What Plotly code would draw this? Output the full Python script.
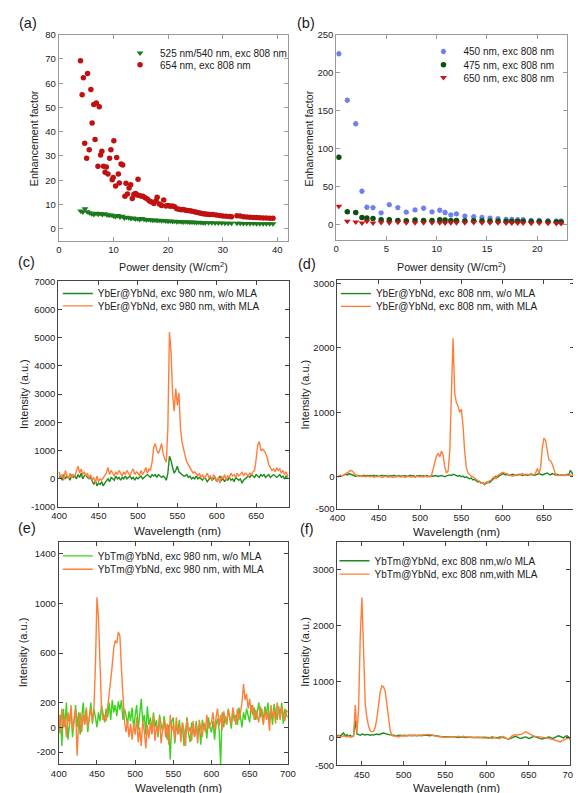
import numpy as np
import plotly.graph_objects as go

W, H = 581, 793
FONT = "Liberation Sans, Arial, sans-serif"

# ---------------- Panel (a) data ----------------
a_red_x = [3.97, 4.27, 4.5, 4.74, 5.1, 5.27, 5.57, 5.87, 6.1, 6.4, 6.64, 6.87, 7.17, 7.4, 7.64, 7.88,
           8.18, 8.47, 8.7, 9.0, 9.3, 9.54, 9.78, 9.96, 10.07, 10.4, 10.6, 10.9, 11.08, 11.4, 11.7,
           12.1, 12.3, 12.56, 12.86, 13.16, 13.45, 13.75, 14.04, 14.5,
           14.2, 14.6, 15.0, 15.4, 15.8, 16.2, 16.6, 17.0, 17.4, 17.8, 18.0, 18.4, 18.8, 19.2, 19.6,
           20.0, 20.4, 20.8, 21.2, 21.6, 22.0, 22.4, 22.8, 23.2, 23.6, 24.0, 24.4, 24.8, 25.2, 25.6,
           26.0, 26.4, 26.8, 27.2, 27.6, 28.2, 28.8, 29.4, 30.0, 30.6, 31.2, 31.6,
           32.6, 33.2, 33.8, 34.4, 35.0, 35.6, 36.2, 36.8, 37.4, 38.0, 38.6, 39.2]
a_red_y = [69.3, 55.2, 62.2, 35.2, 29.0, 64.0, 32.6, 57.4, 43.6, 51.2, 36.8, 51.8, 25.7, 50.3, 30.4, 31.9,
           25.8, 23.3, 25.4, 22.6, 29.1, 32.6, 20.2, 21.1, 36.3, 17.6, 29.4, 22.6, 18.8, 26.7, 26.3,
           13.4, 18.7, 14.3, 16.8, 18.1, 12.4, 14.2, 14.5, 20.4,
           14.0, 13.8, 13.5, 13.4, 12.8, 12.2, 11.4, 11.0, 10.4, 11.5, 13.0, 10.2, 9.6, 11.8, 9.4,
           9.6, 9.3, 9.4, 9.0, 8.2, 8.0, 7.8, 7.9, 7.6, 7.5, 7.4, 7.2, 7.0, 6.8, 6.6,
           6.4, 6.2, 6.1, 6.0, 5.9, 5.8, 5.6, 5.4, 5.2, 5.1, 5.0, 4.9,
           5.3, 5.2, 4.9, 4.8, 4.7, 4.6, 4.6, 4.5, 4.4, 4.4, 4.3, 4.3]
a_green_x = [4.0, 4.4, 4.8, 5.2, 5.6, 6.0, 6.4, 6.8, 7.2, 7.6, 8.0, 8.4, 8.8, 9.2, 9.6, 10.0, 10.4,
             10.8, 11.2, 11.6, 12.0, 12.4, 12.8, 13.2, 13.6, 14.0, 14.4, 14.8, 15.2, 15.6, 16.0,
             16.4, 16.8, 17.2, 17.6, 18.0, 18.4, 18.8, 19.2, 19.6, 20.0, 20.4, 20.8, 21.2, 21.6,
             22.0, 22.4, 22.8, 23.2, 23.6, 24.0, 24.4, 24.8, 25.2, 25.6, 26.0, 26.4, 26.8,
             27.4, 28.0, 28.6, 29.2, 29.8, 30.4, 31.0, 31.6,
             32.6, 33.2, 33.8, 34.4, 35.0, 35.6, 36.2, 36.8, 37.4, 38.0, 38.6, 39.2]
a_green_y = [7.3, 6.9, 8.2, 7.0, 6.6, 6.2, 5.8, 6.4, 6.0, 6.3, 5.9, 6.2, 5.7, 5.5, 5.6, 5.2, 5.0,
             5.4, 4.8, 5.1, 4.4, 4.7, 4.5, 4.2, 4.4, 4.0, 4.1, 3.8, 4.2, 3.9, 3.7,
             3.8, 3.6, 3.5, 3.6, 3.4, 3.5, 3.3, 3.4, 3.2, 3.1, 3.2, 3.0, 3.1, 2.9,
             3.0, 2.9, 2.8, 2.9, 2.8, 2.7, 2.8, 2.7, 2.6, 2.7, 2.6, 2.5, 2.5,
             2.4, 2.4, 2.3, 2.3, 2.3, 2.2, 2.2, 2.2,
             2.2, 2.2, 2.1, 2.1, 2.1, 2.1, 2.0, 2.0, 2.0, 2.0, 2.0, 2.0]

# ---------------- Panel (b) data ----------------
b_x = [0.26, 1.1, 1.94, 2.56, 3.05, 3.66, 4.47, 5.28, 6.13, 6.97, 7.84, 8.69, 9.53, 10.3, 10.83,
       11.4, 11.96, 12.8, 13.68, 14.5, 15.3, 16.1, 16.9, 17.47, 18.05, 18.6, 19.4, 20.2, 21.07,
       21.9, 22.37]
b_450 = [225, 163.8, 132.8, 44, 22.8, 22.4, 15.5, 26.3, 22.4, 16.4, 19.4, 21.5, 16.8, 19, 16,
         12.9, 14.2, 11.2, 10.3, 9.5, 8.6, 7.8, 6.9, 6.9, 6.5, 6.5, 5.6, 5.6, 5.2, 4.7, 4.7]
b_475 = [88.8, 16.8, 16, 9.5, 8.6, 8.2, 6.5, 6.5, 5.6, 5.2, 6, 5.6, 5.6, 6.5, 6,
         5.6, 5.6, 5.2, 5.2, 5.0, 4.7, 4.7, 4.3, 4.3, 4.3, 4.3, 4.0, 4.0, 3.9, 3.5, 3.5]
b_650 = [24.1, 4.3, 3.4, 2.2, 4.3, 2.2, 2.8, 2.6, 3.0, 2.4, 2.6, 2.5, 2.4, 2.6, 2.3,
         2.4, 2.5, 2.6, 2.8, 2.5, 2.6, 2.4, 2.3, 2.2, 2.0, 2.1, 1.9, 2.0, 1.8, 1.6, 1.5]

# ---------------- Panel (c) data (400-690 nm, step 2) ----------------
c_wl = np.arange(400, 692, 2)
c_with = [250, 50, 150, -50, 300, 100, 0, 200, 50, 150,
          100, 300, 450, 200, 350, 150, 250, 100, 200, 0,
          150, -50, 50, -150, 100, -100, 0, -50, 50, 100,
          200, 400, 150, 300, 200, 100, 250, 150, 300, 200,
          100, 250, 150, 300, 200, 100, 250, 350, 150, 250,
          200, 100, 300, 150, 250, 400, 200, 350, 300, 600,
          1100, 1250, 1000, 900, 1050, 1250, 900, 700, 600, 1800,
          5200, 4500, 3000, 2400, 3200, 2600, 3050, 1800, 1300, 1000,
          800, 600, 500, 400, 300, 200, 250, 150, 100, 200,
          50, 150, 0, 100, 200, 50, 100, -50, 150, 50,
          -100, 50, -150, 100, 0, 150, -50, 100, 50, 200,
          100, 150, 50, 200, 100, 150, 250, 100, 200, 150,
          100, 200, 150, 250, 300, 700, 1200, 1320, 1000, 1050,
          1000, 900, 750, 500, 400, 300, 350, 250, 400, 300,
          350, 200, 300, 150, 250, 100]
c_without = [50, 100, -50, 150, 0, 100, 50, -50, 150, 50,
             100, 0, 150, 50, 200, 0, 100, 150, 50, 0,
             50, -100, -200, -50, -250, -150, -200, -100, -250, -150,
             -50, 0, -100, 50, 0, -50, 100, 0, 50, -50,
             50, 0, 100, 0, 50, 100, 0, 50, -50, 50,
             0, 50, 100, 0, 50, 100, 150, 100, 50, 150,
             100, 150, 50, 150, 100, 50, 100, 50, -50, 200,
             800, 650, 400, 200, 300, 450, 250, 200, 150, 100,
             100, 150, 50, 100, 0, 50, 0, 100, 0, 50,
             0, -50, 50, 0, -100, 0, 50, -50, 0, 50,
             -100, 0, 100, -50, 0, -100, 0, -50, 50, -50,
             0, -100, 50, 0, -50, 0, -150, -50, 0, 50,
             100, 50, 150, 100, 50, 150, 100, 50, 150, 100,
             150, 50, 100, 150, 50, 100, 150, 100, 50, 100,
             150, 50, 100, 0, 100, 50]

# ---------------- Panel (d) data (400-686 nm, step 2) ----------------
d_wl = np.arange(400, 688, 2)
d_with = [0, 10, 20, 15, 30, 40, 60, 80, 100, 90,
          60, 30, 20, 10, 15, 5, 10, 0, 10, 5,
          0, 10, -5, 5, 0, 10, 5, -10, 0, 10,
          0, -5, 5, 0, -10, 5, 0, 10, -5, 0,
          5, -10, 0, 10, -5, 0, 5, -5, 10, 0,
          5, 0, -5, 10, 0, 5, 0, 30, 120, 250,
          330, 360, 310, 400, 330, 150, 60, 90, 400, 1300,
          2150, 1300, 1150, 1100, 1000, 1050, 800, 400, 150, 60,
          30, 10, 0, -20, -40, -60, -80, -100, -90, -110,
          -80, -100, -60, -50, -20, 0, -30, 20, 40, 60,
          70, 60, 50, 40, 30, 20, 10, 20, 30, 20,
          30, 40, 50, 30, 20, 40, 30, 50, 40, 30,
          60, 130, 50, 150, 450, 600, 560, 380, 260, 250,
          200, 120, 40, 20, 30, 20, 30, 25, 20, 30,
          20, 30, 25, 20]
d_without = [0, 10, 20, 15, 30, 40, 30, 50, 40, 30,
             20, 10, 20, 15, 20, 10, 25, 15, 20, 10,
             20, 15, 25, 10, 20, 5, 15, 25, 10, 20,
             15, 5, 20, 10, 25, 15, 5, 20, 10, 15,
             10, 20, 5, 15, 25, 10, 20, 0, 15, 10,
             20, 10, 15, 5, 20, 10, 5, 15, 10, 20,
             10, 5, 15, 20, 10, 0, 15, 20, 30, 20,
             40, 30, 20, 10, 20, 0, 10, -10, 0, -20,
             -30, -20, -50, -40, -60, -80, -70, -100, -90, -120,
             -100, -80, -90, -60, -40, -20, 10, -10, 20, 30,
             50, 40, 30, 40, 20, 30, 40, 30, 20, 30,
             40, 30, 20, 30, 40, 20, 30, 40, 30, 20,
             30, 40, 50, 40, 30, 40, 50, 60, 40, 30,
             50, 40, 30, 40, 20, 30, 20, 30, 20, 40,
             30, 100, 50, 20]

# ---------------- Panel (e) data (400-700 nm, step 2) ----------------
e_wl = np.arange(400, 702, 2)
e_with = [100, -50, 150, 0, 80, -80, 120, 20, 180, -20,
          60, 150, -230, 50, 120, -40, 100, 30, 160, 0,
          80, 150, 50, 150, 500, 1050, 880, 400, 150, 60,
          100, 50, 150, 250, 380, 500, 640, 700, 680, 770,
          740, 480, 220, 60, -40, 50, -80, 30, -100, 20,
          -60, 80, -120, 0, -150, 50, -30, -170, 20, -90,
          40, -60, 100, -110, 10, -50, 80, -130, -20, 60,
          -80, 30, -140, 100, -30, 20, -100, 80, -60, 10,
          -120, 40, -20, -150, 70, -40, 0, -110, 50, -70,
          20, -130, 60, -20, -80, 40, -40, 100, -10, 20,
          40, 120, -30, 80, 150, 10, 100, -20, 130, 60,
          20, 140, 80, 30, 160, 90, 20, 150, 60, 120,
          200, 350, 220, 270, 150, 230, 120, 180, 60, 140,
          100, 40, 170, 90, 20, 150, 60, 120, -30, 180,
          80, 140, 30, 200, 110, 60, 170, 100, 50, 140,
          120]
e_without = [-50, 100, -150, 150, 0, 200, -100, 50, 150, -80,
             80, 180, 0, 120, -60, 100, 200, 20, 140, -40,
             60, 200, 30, 150, 80, 0, 120, 50, 180, 100,
             40, 150, 80, 200, 60, 220, 120, 180, 90, 210,
             140, 220, 60, 150, 100, 20, 130, 50, 160, 0,
             90, 180, -20, 130, 230, 40, 100, -60, 170, 20,
             80, -40, 120, 0, 60, -80, 100, 20, -30, 90,
             0, -100, 20, -260, 50, 80, -130, 20, -40, 60,
             -90, 30, -150, 0, 80, -50, -120, 40, -20, -80,
             50, -60, 20, -140, 60, -20, 30, -90, 80, 0,
             -40, 50, -100, 20, 70, -20, -300, 120, 0, 90,
             30, 150, 70, -10, 130, 50, 100, 20, 160, 80,
             0, 120, 60, 150, 90, 40, 180, 100, 160, 60,
             120, 200, 80, 150, 40, 170, 100, 200, 60, 140,
             20, 190, 110, 60, 170, 90, 200, 30, 150, 100,
             80]

# ---------------- Panel (f) data (420-700 nm, step 2) ----------------
f_wl = np.arange(420, 702, 2)
f_with = [20, 30, 10, 25, 30, 20, 10, 25, 5, 20,
          20, 580, 80, 500, 1800, 2500, 1500, 600, 350, 200,
          120, 100, 110, 180, 350, 600, 820, 920, 900, 820,
          600, 300, 120, 40, 20, 30, 20, 10, 25, 30,
          30, 25, 35, 30, 40, 35, 30, 40, 35, 30,
          40, 45, 50, 55, 60, 55, 50, 40, 35, 30,
          20, 10, 15, 10, 5, 0, 10, 5, 15, 10,
          5, 10, 15, 20, 10, 15, 20, 10, 15, 5,
          10, 0, 5, -5, 0, -10, 0, -5, -10, -15,
          -10, -15, -5, -20, -10, 0, -15, -20, -10, -5,
          20, -10, -20, -30, 0, 30, 40, 50, 45, 50,
          50, 60, 80, 100, 90, 70, 50, 35, 25, 20,
          20, 15, 10, 5, 0, -5, -10, -15, -20, -30,
          -40, -50, -60, -70, -80, -60, -40, -30, -20, -10,
          -20]
f_without = [30, 40, 25, 60, 80, 30, 50, 20, 40, 10,
             30, 300, 60, 50, 40, 60, 50, 45, 55, 50,
             40, 50, 45, 55, 60, 50, 55, 70, 80, 75,
             60, 50, 45, 40, 35, 40, 30, 35, 40, 30,
             40, 35, 30, 40, 35, 30, 40, 35, 30, 40,
             35, 30, 40, 45, 40, 35, 30, 40, 35, 30,
             25, 20, 15, 20, 10, 15, 10, 5, 10, 15,
             10, 5, 10, 0, 5, 10, 5, 0, 5, 10,
             5, 0, -5, 0, 5, 0, -5, 0, 5, 0,
             5, 0, -5, 10, 5, 0, -10, 0, 10, 5,
             0, -10, -20, -30, -20, 0, 10, 20, 10, -10,
             -20, -10, 0, 10, 0, -20, -10, 10, 20, 10,
             0, -10, -20, -30, -20, -10, 0, 10, 0, -20,
             -10, 10, 20, 30, 20, 0, -10, 20, 30, 10,
             -40]

# ---------------- styling ----------------
ORANGE = "#ff7f3a"
GREEN_D = "#1c8a1c"
GREEN_L = "#3ad41c"
GREEN_A = "#1b7a1b"
RED_A = "#c01010"
LW = 1.4


def px_x(x):
    return x / W


def px_y(y):
    return 1 - y / H


fig = go.Figure()

# (a)
fig.add_trace(go.Scatter(x=a_green_x, y=a_green_y, mode="markers", xaxis="x", yaxis="y",
                         name="525 nm/540 nm, exc 808 nm", legend="legend",
                         marker=dict(symbol="triangle-down", size=6, color=GREEN_A)))
fig.add_trace(go.Scatter(x=a_red_x, y=a_red_y, mode="markers", xaxis="x", yaxis="y",
                         name="654 nm, exc 808 nm", legend="legend2",
                         marker=dict(symbol="circle", size=5.5, color=RED_A)))
# (b)
fig.add_trace(go.Scatter(x=b_x, y=b_450, mode="markers", xaxis="x2", yaxis="y2",
                         name="450 nm, exc 808 nm", legend="legend3",
                         marker=dict(symbol="asterisk-open", size=4.5, color="#6f7fee",
                                     line=dict(color="#6f7fee", width=1.5))))
fig.add_trace(go.Scatter(x=b_x, y=b_475, mode="markers", xaxis="x2", yaxis="y2",
                         name="475 nm, exc 808 nm", legend="legend4",
                         marker=dict(symbol="circle", size=5.5, color="#0c4f12")))
fig.add_trace(go.Scatter(x=b_x, y=b_650, mode="markers", xaxis="x2", yaxis="y2",
                         name="650 nm, exc 808 nm", legend="legend5",
                         marker=dict(symbol="triangle-down", size=6, color="#c81414")))
# (c)
fig.add_trace(go.Scatter(x=c_wl, y=c_without, mode="lines", xaxis="x3", yaxis="y3",
                         name="YbEr@YbNd, exc 980 nm, w/o MLA", legend="legend6",
                         line=dict(color=GREEN_D, width=LW)))
fig.add_trace(go.Scatter(x=c_wl, y=c_with, mode="lines", xaxis="x3", yaxis="y3",
                         name="YbEr@YbNd, exc 980 nm, with MLA", legend="legend7",
                         line=dict(color=ORANGE, width=LW)))
# (d)
fig.add_trace(go.Scatter(x=d_wl, y=d_without, mode="lines", xaxis="x4", yaxis="y4",
                         name="YbEr@YbNd, exc 808 nm, w/o MLA", legend="legend8",
                         line=dict(color=GREEN_D, width=LW)))
fig.add_trace(go.Scatter(x=d_wl, y=d_with, mode="lines", xaxis="x4", yaxis="y4",
                         name="YbEr@YbNd, exc 808 nm, with MLA", legend="legend9",
                         line=dict(color=ORANGE, width=LW)))
# (e)
fig.add_trace(go.Scatter(x=e_wl, y=e_without, mode="lines", xaxis="x5", yaxis="y5",
                         name="YbTm@YbNd, exc 980 nm, w/o MLA", legend="legend10",
                         line=dict(color=GREEN_L, width=LW)))
fig.add_trace(go.Scatter(x=e_wl, y=e_with, mode="lines", xaxis="x5", yaxis="y5",
                         name="YbTm@YbNd, exc 980 nm, with MLA", legend="legend11",
                         line=dict(color=ORANGE, width=LW)))
# (f)
fig.add_trace(go.Scatter(x=f_wl, y=f_without, mode="lines", xaxis="x6", yaxis="y6",
                         name="YbTm@YbNd, exc 808 nm,w/o MLA", legend="legend12",
                         line=dict(color=GREEN_D, width=LW)))
fig.add_trace(go.Scatter(x=f_wl, y=f_with, mode="lines", xaxis="x6", yaxis="y6",
                         name="YbTm@YbNd, exc 808 nm,with MLA", legend="legend13",
                         line=dict(color=ORANGE, width=LW)))


def axis(domain, rng, tickvals, anchor, linecolor):
    return dict(domain=domain, range=rng, tickvals=tickvals, anchor=anchor,
                showline=True, mirror="ticks", linecolor=linecolor, linewidth=1,
                ticks="inside", ticklen=4, tickcolor=linecolor, showgrid=False,
                zeroline=False, tickfont=dict(size=9.5, color="#222222", family=FONT))


LIGHT = "#9a9a9a"
DARK = "#444444"
panels = {
    # name: (xpx, ypx, xrange, yrange, xticks, yticks, color)
    "1": ((44, 280), (21, 230), [0, 42], [-5, 80], [0, 10, 20, 30, 40], list(range(0, 81, 10)), LIGHT),
    "2": ((329.3, 567), (21, 229), [0, 23], [-20, 250], [0, 5, 10, 15, 20], [0, 50, 100, 150, 200, 250], LIGHT),
    "3": ((43.5, 281), (271, 500), [399, 692], [-1000, 7000], [400, 450, 500, 550, 600, 650],
          list(range(-1000, 7001, 1000)), DARK),
    "4": ((330.5, 573.5), (270, 502), [400, 686], [-500, 3050], [400, 450, 500, 550, 600, 650],
          [-500, 0, 1000, 2000, 3000], DARK),
    "5": ((44, 279.5), (535, 761), [400, 700], [-300, 1500], [400, 450, 500, 550, 600, 650, 700],
          [-200, 0, 200, 600, 1000, 1400], DARK),
    "6": ((330, 570), (535, 762), [420, 700], [-500, 3500], [450, 500, 550, 600, 650, 700],
          [-500, 0, 1000, 2000, 3000], DARK),
}
layout_axes = {}
for k, (xp, yp, xr, yr, xt, yt, col) in panels.items():
    sfx = "" if k == "1" else k
    xd = [px_x(xp[0]), px_x(xp[1])]
    yd = [px_y(yp[1]), px_y(yp[0])]
    layout_axes["xaxis" + sfx] = axis(xd, xr, xt, "y" + sfx, col)
    layout_axes["yaxis" + sfx] = axis(yd, yr, yt, "x" + sfx, col)
    layout_axes["yaxis" + sfx]["ticktext"] = [str(v) for v in yt]
    layout_axes["xaxis" + sfx]["ticktext"] = [str(v) for v in xt]

annotations = []


def text(x, y, s, size, angle=0):
    annotations.append(dict(x=px_x(x), y=px_y(y), xref="paper", yref="paper", text=s,
                            showarrow=False, textangle=angle, xanchor="center", yanchor="middle",
                            font=dict(size=size, color="#1a1a1a", family=FONT)))


# panel labels
for lab, x, y in [("(a)", 12, 9), ("(b)", 298, 9), ("(c)", 11, 251), ("(d)", 299, 254),
                  ("(e)", 11, 521), ("(f)", 299, 522)]:
    text(x, y, lab, 14.5)

# axis titles
pd_title = "Power density (W/cm<sup>2</sup>)"
text(162, 256, pd_title, 10.7)
text(448, 256, pd_title, 10.7)
text(166, 524, "Wavelength (nm)", 11.5)
text(453, 525, "Wavelength (nm)", 11.5)
text(167, 785, "Wavelength (nm)", 11.5)
text(453, 785, "Wavelength (nm)", 11.5)
text(18.5, 126, "Enhancement factor", 10.7, -90)
text(301.5, 126, "Enhancement factor", 10.7, -90)
text(7.5, 385, "Intensity (a.u.)", 11, -90)
text(297, 386, "Intensity (a.u.)", 11, -90)
text(7.5, 647, "Intensity (a.u.)", 11, -90)
text(297, 647, "Intensity (a.u.)", 11, -90)

# legends: one per row, positioned where each row sits
legend_rows = {
    "legend": (147, 39.5), "legend2": (147, 51.5),
    "legend3": (459, 38), "legend4": (459, 51.5), "legend5": (459, 64.5),
    "legend6": (83, 283.5), "legend7": (83, 296),
    "legend8": (369, 283.5), "legend9": (369, 296.5),
    "legend10": (83, 549.5), "legend11": (83, 563),
    "legend12": (367.5, 554.5), "legend13": (367.5, 568),
}
legends = {}
for name, (tx, ty) in legend_rows.items():
    legends[name] = dict(x=px_x(tx - 40), y=px_y(ty), xanchor="left", yanchor="middle",
                         bgcolor="rgba(0,0,0,0)", borderwidth=0,
                         font=dict(size=10, color="#1a1a1a", family=FONT))

fig.update_layout(
    width=W, height=H, margin=dict(l=0, r=0, t=0, b=0),
    paper_bgcolor="white", plot_bgcolor="white",
    font=dict(family=FONT, size=10, color="#1a1a1a"),
    showlegend=True, annotations=annotations,
    **layout_axes, **legends,
)

fig.write_html("out.html")
